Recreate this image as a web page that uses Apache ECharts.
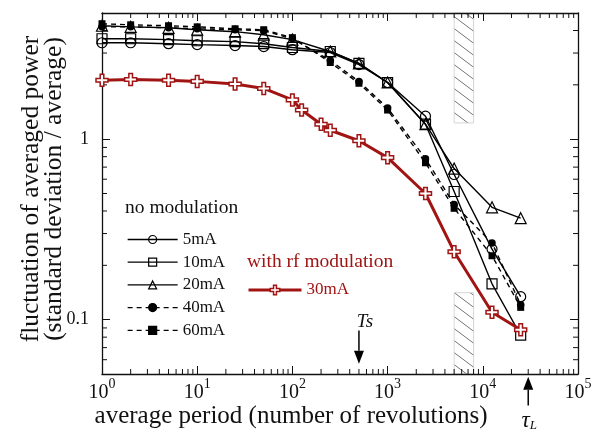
<!DOCTYPE html>
<html>
<head>
<meta charset="utf-8">
<script src="https://cdn.jsdelivr.net/npm/echarts@6/dist/echarts.min.js"></script>
<style>
  html, body { margin: 0; padding: 0; background: #fff; }
  #chart { width: 595px; height: 433px; }
</style>
</head>
<body>
<div id="chart"></div>
<script>
// average period (revolutions) and fluctuation (std dev / average)
var periods = [1, 2, 5, 10, 25, 50, 100, 250, 500, 1000, 2500, 5000, 12500, 25000];
var fluct5mA  = [3.42, 3.42, 3.38, 3.34, 3.30, 3.26, 3.13, 3.02, 2.59, 2.06, 1.34, 0.637, 0.246, 0.134];
var fluct10mA = [3.60, 3.60, 3.56, 3.51, 3.47, 3.38, 3.22, 3.06, 2.63, 2.06, 1.21, 0.513, 0.158, 0.082];
var fluct20mA = [4.25, 4.19, 4.14, 4.04, 3.94, 3.79, 3.56, 3.06, 2.63, 2.06, 1.21, 0.687, 0.419, 0.365];
var fluct40mA = [4.19, 4.19, 4.14, 4.09, 4.04, 3.99, 3.60, 2.73, 2.09, 1.49, 0.78, 0.435, 0.266, 0.121];
var fluct60mA = [4.36, 4.30, 4.25, 4.19, 4.09, 4.04, 3.65, 2.66, 2.04, 1.45, 0.74, 0.414, 0.226, 0.117];

var rfPeriods   = [1, 2, 5, 10, 25, 50, 100, 125, 200, 250, 500, 1000, 2500, 5000, 12500, 25000];
var fluctRf30mA = [2.12, 2.14, 2.12, 2.09, 2.02, 1.91, 1.65, 1.45, 1.21, 1.12, 0.98, 0.79, 0.50, 0.238, 0.110, 0.088];

var xTickExps = [0, 1, 2, 3, 4, 5];
var yTickVals = [0.1, 1];
var yTickLabels = ['0.1', '1'];

// annotations (in data units)
var hatchPeriods = [5000, 8000];
var hatchUpper = [1.23, 5];
var hatchLower = [0.05, 0.141];
var tsPeriod = 500, tsArrow = [0.087, 0.057];
var tauPeriod = 30000, tauArrow = [0.0335, 0.0482];

var SERIF = '"Liberation Serif", "Times New Roman", serif';
var RED = '#a01414';

var xMinorTicks = [];
[1, 10, 100, 1000, 10000].forEach(function (d) {
  for (var k = 2; k <= 9; k++) xMinorTicks.push(k * d);
});
var yMinorTicks = [];
[0.01, 0.1, 1].forEach(function (d) {
  for (var k = 2; k <= 9; k++) {
    var v = k * d;
    if (v > 0.0501 && v < 4.99) yMinorTicks.push(v);
  }
});

function pairs(xs, ys) {
  return xs.map(function (x, i) { return [x, ys[i]]; });
}

function tick(x1, y1, x2, y2) {
  return { type: 'line', shape: { x1: x1, y1: y1, x2: x2, y2: y2 }, style: { stroke: '#111', lineWidth: 1 } };
}

function renderMinorTicks(params, api) {
  var cs = params.coordSys;
  var left = cs.x, right = cs.x + cs.width, top = cs.y, bottom = cs.y + cs.height;
  var len = 5;
  var kids = [];
  xMinorTicks.forEach(function (v) {
    var x = api.coord([v, 1])[0];
    kids.push(tick(x, bottom, x, bottom - len));
    kids.push(tick(x, top, x, top + len));
  });
  yMinorTicks.forEach(function (v) {
    var y = api.coord([1, v])[1];
    kids.push(tick(left, y, left + len, y));
    kids.push(tick(right, y, right - len, y));
  });
  return { type: 'group', children: kids };
}

function blackSeries(name, ys, symbol, size, filled, dashed) {
  return {
    name: name,
    type: 'line',
    data: pairs(periods, ys),
    symbol: symbol,
    symbolSize: size,
    showAllSymbol: true,
    lineStyle: { color: '#000', width: 1.4, type: dashed ? [5, 4] : 'solid' },
    itemStyle: { color: filled ? '#000' : 'rgba(255,255,255,0)', borderColor: '#000', borderWidth: filled ? 0 : 1.2 },
    emphasis: { disabled: true },
    animation: false,
    z: 3
  };
}

var axisLine = { show: true, lineStyle: { color: '#111', width: 1.3 } };
var axisTick = { show: true, inside: true, length: 8, lineStyle: { color: '#111', width: 1 } };
var crossPath = 'path://M3.5,0 H6.5 V3.5 H10 V6.5 H6.5 V10 H3.5 V6.5 H0 V3.5 H3.5 Z';

var option = {
  animation: false,
  backgroundColor: '#fff',
  grid: { left: 102, right: 17, top: 13, bottom: 59 },
  xAxis: [{
    type: 'log', logBase: 10, min: 1, max: 100000, position: 'bottom',
    axisLine: axisLine, axisTick: axisTick, splitLine: { show: false },
    axisLabel: {
      margin: 3,
      formatter: function (v) {
        var e = Math.round(Math.log10(v));
        return xTickExps.indexOf(e) >= 0 ? '{b|10}{s|' + e + '}' : '';
      },
      rich: {
        b: { fontFamily: SERIF, fontSize: 20, color: '#111', lineHeight: 26, verticalAlign: 'bottom' },
        s: { fontFamily: SERIF, fontSize: 14, color: '#111', lineHeight: 14, verticalAlign: 'top' }
      }
    }
  }, {
    type: 'log', logBase: 10, min: 1, max: 100000, position: 'top',
    axisLine: axisLine, axisTick: axisTick, splitLine: { show: false },
    axisLabel: { show: false }
  }],
  yAxis: [{
    type: 'log', logBase: 10, min: 0.05, max: 5, position: 'left',
    axisLine: axisLine, axisTick: axisTick, splitLine: { show: false },
    axisLabel: {
      margin: 13, showMinLabel: false, showMaxLabel: false,
      fontFamily: SERIF, fontSize: 18, color: '#111',
      formatter: function (v) {
        for (var i = 0; i < yTickVals.length; i++) {
          if (Math.abs(v / yTickVals[i] - 1) < 0.01) return yTickLabels[i];
        }
        return '';
      }
    }
  }, {
    type: 'log', logBase: 10, min: 0.05, max: 5, position: 'right',
    axisLine: axisLine, axisTick: axisTick, splitLine: { show: false },
    axisLabel: { show: false }
  }],
  legend: [{
    data: ['5mA', '10mA', '20mA', '40mA', '60mA'],
    orient: 'vertical', left: 127, top: 231, padding: 0,
    itemWidth: 50, itemHeight: 10, itemGap: 5.7,
    selectedMode: false,
    textStyle: { fontFamily: SERIF, fontSize: 17, color: '#111', lineHeight: 17 },
    lineStyle: { width: 1.3 },
    itemStyle: { borderWidth: 1.2 }
  }, {
    data: ['30mA'],
    orient: 'vertical', left: 247, top: 281.5, padding: 0,
    itemWidth: 53, itemHeight: 12, itemGap: 5,
    selectedMode: false,
    textStyle: { fontFamily: SERIF, fontSize: 17, color: RED, lineHeight: 17 },
    lineStyle: { width: 3 },
    itemStyle: { borderWidth: 1.5 }
  }],
  series: [
    {
      type: 'custom', name: 'minorTicks', data: [[1, 1]], renderItem: renderMinorTicks,
      silent: true, z: 1, animation: false
    },
    blackSeries('5mA', fluct5mA, 'circle', 10, false, false),
    blackSeries('10mA', fluct10mA, 'rect', 10, false, false),
    blackSeries('20mA', fluct20mA, 'triangle', 11, false, false),
    blackSeries('40mA', fluct40mA, 'circle', 7.5, true, true),
    blackSeries('60mA', fluct60mA, 'rect', 7, true, true),
    {
      name: '30mA',
      type: 'line',
      data: pairs(rfPeriods, fluctRf30mA),
      symbol: crossPath,
      symbolSize: 12,
      showAllSymbol: true,
      lineStyle: { color: RED, width: 3 },
      itemStyle: { color: '#fff', borderColor: RED, borderWidth: 1.5 },
      emphasis: { disabled: true },
      animation: false,
      z: 4
    }
  ]
};

var chart = echarts.init(document.getElementById('chart'));
chart.setOption(option);

function px(x, y) {
  return chart.convertToPixel({ seriesIndex: 1 }, [x, y]);
}

function hatchPattern() {
  var c = document.createElement('canvas');
  c.width = 16; c.height = 12;
  var g = c.getContext('2d');
  g.strokeStyle = '#666';
  g.lineWidth = 0.9;
  g.beginPath();
  g.moveTo(-16, -12); g.lineTo(32, 24);
  g.moveTo(-16, 0); g.lineTo(16, 24);
  g.moveTo(0, -12); g.lineTo(32, 12);
  g.stroke();
  return c;
}

function hatchRect(yRange) {
  var a = px(hatchPeriods[0], yRange[1]);
  var b = px(hatchPeriods[1], yRange[0]);
  return {
    type: 'rect', z: 0,
    shape: { x: a[0], y: a[1], width: b[0] - a[0], height: b[1] - a[1] },
    style: { fill: { image: hatchPattern(), repeat: 'repeat' }, stroke: '#ccc', lineWidth: 0.8 }
  };
}

function arrow(x, yFrom, yTo) {
  var dir = yTo > yFrom ? 1 : -1;
  var head = 13;
  return [{
    type: 'line', z: 10,
    shape: { x1: x, y1: yFrom, x2: x, y2: yTo - dir * head },
    style: { stroke: '#000', lineWidth: 1.5 }
  }, {
    type: 'polygon', z: 10,
    shape: { points: [[x, yTo], [x - 5, yTo - dir * head], [x + 5, yTo - dir * head]] },
    style: { fill: '#000' }
  }];
}

var ts0 = px(tsPeriod, tsArrow[0]), ts1 = px(tsPeriod, tsArrow[1]);
var tau0 = px(tauPeriod, tauArrow[0]), tau1 = px(tauPeriod, tauArrow[1]);

var graphics = [
  hatchRect(hatchUpper),
  hatchRect(hatchLower)
].concat(arrow(ts0[0], ts0[1], ts1[1]), arrow(tau0[0], tau0[1], tau1[1]), [
  {
    type: 'text', z: 10, x: ts0[0] + 6, y: ts0[1] - 9,
    style: { text: 'Ts', font: 'italic 19px ' + SERIF, fill: '#111', align: 'center', verticalAlign: 'middle' }
  },
  {
    type: 'text', z: 10, x: tau0[0] + 1, y: 421,
    style: {
      text: '{t|τ}{l|L}', align: 'center', verticalAlign: 'middle',
      rich: {
        t: { font: 'italic 23px ' + SERIF, fill: '#111', verticalAlign: 'bottom' },
        l: { font: 'italic 13px ' + SERIF, fill: '#111', verticalAlign: 'bottom' }
      }
    }
  },
  {
    type: 'text', z: 10, x: 291, y: 416,
    style: { text: 'average period (number of revolutions)', font: '25px ' + SERIF, fill: '#111', align: 'center', verticalAlign: 'middle' }
  },
  {
    type: 'text', z: 10, x: 31, y: 189, rotation: Math.PI / 2,
    style: { text: 'fluctuation of averaged power', font: '25.5px ' + SERIF, fill: '#111', align: 'center', verticalAlign: 'middle' }
  },
  {
    type: 'text', z: 10, x: 54, y: 189, rotation: Math.PI / 2,
    style: { text: '(standard deviation / average)', font: '25.5px ' + SERIF, fill: '#111', align: 'center', verticalAlign: 'middle' }
  },
  {
    type: 'text', z: 10, x: 125, y: 208,
    style: { text: 'no modulation', font: '19.5px ' + SERIF, fill: '#111', align: 'left', verticalAlign: 'middle' }
  },
  {
    type: 'text', z: 10, x: 247, y: 262,
    style: { text: 'with rf modulation', font: '19.5px ' + SERIF, fill: RED, align: 'left', verticalAlign: 'middle' }
  }
]);

chart.setOption({ graphic: graphics });
</script>
</body>
</html>
